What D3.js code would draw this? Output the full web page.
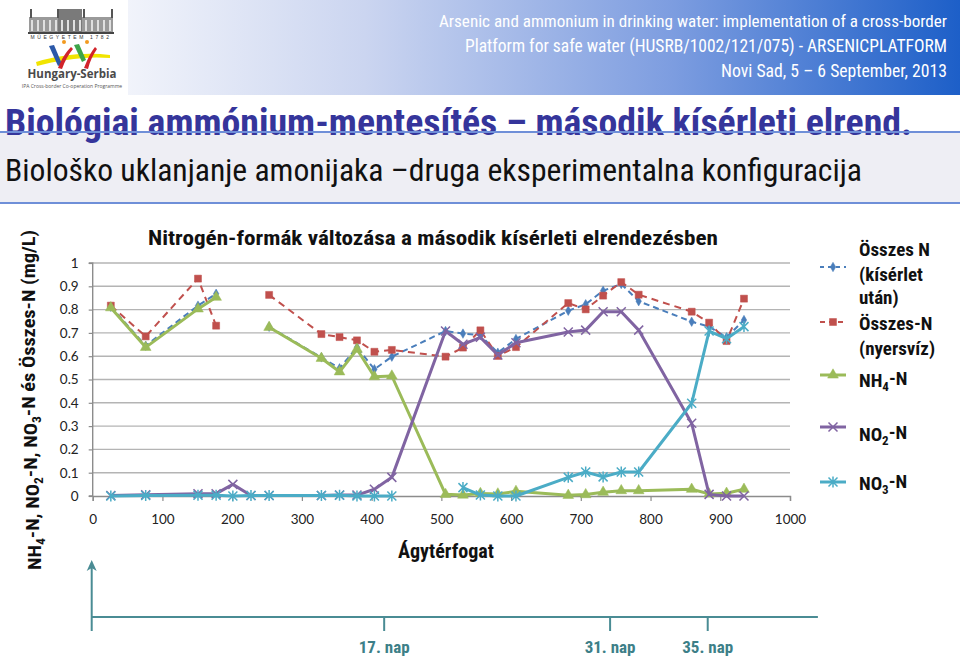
<!DOCTYPE html>
<html>
<head>
<meta charset="utf-8">
<script src="https://cdn.jsdelivr.net/npm/d3@7/dist/d3.min.js"></script>
<style>
html,body{margin:0;padding:0;background:#fff;}
svg{display:block;}
</style>
</head>
<body>
<svg id="c" width="960" height="659"></svg>
<script>
// ---------- data ----------
const bedVolume = [26, 76, 151, 177, 201, 227, 253, 328, 354, 379, 404, 429, 506, 531, 556, 581, 607, 682, 707, 732, 758, 783, 859, 884, 909, 934];
const totalNAfter = [0.812, 0.645, 0.817, 0.868, null, null, 0.726, 0.595, 0.548, 0.638, 0.544, 0.598, 0.708, 0.697, 0.690, 0.615, 0.674, 0.795, 0.823, 0.881, 0.910, 0.836, 0.748, 0.727, 0.681, 0.755];
const totalNRaw   = [0.817, 0.685, 0.933, 0.731, null, null, 0.863, 0.695, 0.682, 0.668, 0.619, 0.627, 0.598, 0.637, 0.711, 0.601, 0.639, 0.828, 0.801, 0.860, 0.918, 0.864, 0.791, 0.744, 0.665, 0.847];
const nh4N        = [0.808, 0.638, 0.803, 0.853, null, null, 0.724, 0.591, 0.533, 0.630, 0.512, 0.515, 0.007, 0.004, 0.011, 0.009, 0.020, 0.003, 0.006, 0.016, 0.023, 0.023, 0.029, 0.009, 0.012, 0.029];
const no2N        = [0.002, 0.005, 0.010, 0.010, 0.050, 0.002, 0.002, 0.002, 0.004, 0.004, 0.029, 0.080, 0.708, 0.651, 0.681, 0.605, 0.658, 0.704, 0.712, 0.791, 0.791, 0.712, 0.312, 0.007, 0.000, 0.000];
const no3N        = [0.000, 0.002, 0.003, 0.003, 0.000, 0.002, 0.002, 0.002, 0.003, 0.000, 0.000, 0.000, null, 0.036, 0.004, 0.000, 0.000, 0.080, 0.103, 0.082, 0.103, 0.103, 0.398, 0.708, 0.675, 0.727];
const xTicks = [0, 100, 200, 300, 400, 500, 600, 700, 800, 900, 1000];
const yTicks = [0, 0.1, 0.2, 0.3, 0.4, 0.5, 0.6, 0.7, 0.8, 0.9, 1];
const dayLabels = ["17. nap", "31. nap", "35. nap"];
const dayPositions = [418, 742, 882];

const NARROW = "'Liberation Sans Narrow','Arial Narrow','Roboto Condensed','Liberation Sans',Arial,sans-serif";
const CAL = "Lato,'Open Sans',Carlito,sans-serif";

const svg = d3.select("#c");

// ---------- header ----------
const defs = svg.append("defs");
const grad = defs.append("linearGradient").attr("id","hg").attr("x1","0").attr("x2","1").attr("y1","0").attr("y2","0");
grad.append("stop").attr("offset","0").attr("stop-color","#ffffff");
grad.append("stop").attr("offset","0.12").attr("stop-color","#f3f5fb");
grad.append("stop").attr("offset","0.38").attr("stop-color","#cbd5f0");
grad.append("stop").attr("offset","0.7").attr("stop-color","#7d9de0");
grad.append("stop").attr("offset","1").attr("stop-color","#1d5fc8");
svg.append("rect").attr("x",0).attr("y",0).attr("width",960).attr("height",95).attr("fill","url(#hg)");

// logo (decorative)
const logo = svg.append("g");
logo.append("rect").attr("x",0).attr("y",0).attr("width",128).attr("height",95).attr("fill","#fff");
logo.append("rect").attr("x",29).attr("y",17).attr("width",84).attr("height",16).attr("fill","#9a9a9a");
logo.append("rect").attr("x",58).attr("y",9).attr("width",24).attr("height",24).attr("fill","#7a7a7a");
for (let i=0;i<14;i++){ logo.append("rect").attr("x",31+i*6).attr("y",20).attr("width",2).attr("height",11).attr("fill","#e0e0e0"); }
[30,57,83,111].forEach(xx=>logo.append("rect").attr("x",xx).attr("y",9).attr("width",2).attr("height",9).attr("fill","#555"));
logo.append("rect").attr("x",28).attr("y",32).attr("width",86).attr("height",2).attr("fill","#444");
logo.append("text").attr("x",71).attr("y",39).attr("text-anchor","middle").attr("font-family","Liberation Sans,Arial").attr("font-size",5).attr("letter-spacing",2.6).attr("fill","#333").text("MŰEGYETEM 1782");
logo.append("path").attr("d","M36,62 C60,55 85,52 110,55 L110,58 C85,56 60,60 37,66 Z").attr("fill","#f1e400");
logo.append("path").attr("d","M49,46 L54,45 L62,64 L58,66 Z").attr("fill","#2b58a8");
logo.append("path").attr("d","M58,68 C62,58 66,52 71,47 L73,49 C68,55 65,61 62,69 Z").attr("fill","#d2232a");
logo.append("path").attr("d","M74,45 L79,44 L86,60 L82,62 Z").attr("fill","#3da54a");
logo.append("path").attr("d","M84,68 C88,58 91,52 95,47 L97,49 C93,55 90,61 88,69 Z").attr("fill","#d2232a");
logo.append("circle").attr("cx",64).attr("cy",42).attr("r",2).attr("fill","#f29a1f");
logo.append("circle").attr("cx",87).attr("cy",42).attr("r",2).attr("fill","#f29a1f");
logo.append("text").attr("x",72).attr("y",78).attr("text-anchor","middle").attr("font-family","'Open Sans',Arial").attr("font-weight","bold").attr("font-size",11.5).attr("fill","#4a4a4a").text("Hungary-Serbia");
logo.append("text").attr("x",72).attr("y",88).attr("text-anchor","middle").attr("font-family","'Open Sans',Arial").attr("font-size",5).attr("fill","#555").text("IPA Cross-border Co-operation Programme");

const hdr = [
  {t:"Arsenic and ammonium in drinking water: implementation of a cross-border", y:27, w:508, fs:17},
  {t:"Platform for safe water (HUSRB/1002/121/075) - ARSENICPLATFORM", y:52, w:482, fs:18},
  {t:"Novi Sad, 5 – 6 September, 2013", y:77, w:226, fs:18}
];
hdr.forEach(h=>svg.append("text").attr("x",947-h.w).attr("y",h.y)
  .attr("font-family",NARROW).attr("font-size",h.fs).attr("fill","#fff")
  .attr("textLength",h.w).attr("lengthAdjust","spacingAndGlyphs").text(h.t));

// title band
svg.append("rect").attr("x",0).attr("y",132).attr("width",960).attr("height",71).attr("fill","#eeeef4");
svg.append("text").attr("x",5).attr("y",135).attr("font-family",NARROW).attr("font-weight","bold").attr("font-size",37)
  .attr("fill","#35359b").attr("textLength",907).attr("lengthAdjust","spacingAndGlyphs")
  .text("Biológiai ammónium-mentesítés – második kísérleti elrend.");
svg.append("line").attr("x1",0).attr("x2",960).attr("y1",132).attr("y2",132).attr("stroke","#6f8fd8").attr("stroke-width",2);
svg.append("line").attr("x1",0).attr("x2",960).attr("y1",203).attr("y2",203).attr("stroke","#6f8fd8").attr("stroke-width",2);
svg.append("text").attr("x",5).attr("y",181).attr("font-family",NARROW).attr("font-size",31)
  .attr("fill","#111").attr("textLength",857).attr("lengthAdjust","spacingAndGlyphs")
  .text("Biološko uklanjanje amonijaka –druga eksperimentalna konfiguracija");

// ---------- chart ----------
const x = d3.scaleLinear().domain([0,1000]).range([92.7,790]);
const y = d3.scaleLinear().domain([0,1]).range([496,263]);

// gridlines
svg.append("g").selectAll("line").data(yTicks.filter(d=>d>0)).join("line")
  .attr("x1",x(0)).attr("x2",x(1000)).attr("y1",d=>y(d)).attr("y2",d=>y(d))
  .attr("stroke","#b4b4b4").attr("stroke-width",1.4);

const yAxis = svg.append("g").attr("transform",`translate(${x(0)},0)`)
  .call(d3.axisLeft(y).tickValues(yTicks).tickFormat(d=>d===0?"0":d===1?"1":d3.format(".1f")(d)).tickSize(4).tickPadding(10));
const xAxis = svg.append("g").attr("transform",`translate(0,${y(0)})`)
  .call(d3.axisBottom(x).tickValues(xTicks).tickFormat(d3.format("d")).tickSize(5).tickPadding(13));
[yAxis,xAxis].forEach(a=>{
  a.select(".domain").attr("stroke","#8c8c8c").attr("stroke-width",1.4);
  a.selectAll(".tick line").attr("stroke","#8c8c8c").attr("stroke-width",1.2);
  a.selectAll("text").attr("font-family",CAL).attr("font-size",13.5).attr("fill","#222");
});
yAxis.select(".domain").attr("d",`M-4,${y(1)}H0V${y(0)}H-4`);

// series
const colors = ["#4a7ebb","#c0504d","#9bbb59","#8064a2","#4bacc6"];
const seriesVals = [totalNAfter,totalNRaw,nh4N,no2N,no3N];
const lineStyles = [
  {w:2, dash:"6,4"},
  {w:2, dash:"7,5"},
  {w:3, dash:null},
  {w:3, dash:null},
  {w:3, dash:null}
];
function markerPath(i){
  if(i===0) return d3.symbol(d3.symbolDiamond,26)();
  if(i===1) return d3.symbol(d3.symbolSquare,49)();
  if(i===2) return d3.symbol(d3.symbolTriangle,50)();
  if(i===3) return "M-4.5,-4.5L4.5,4.5M-4.5,4.5L4.5,-4.5";
  return "M-4.5,-4.5L4.5,4.5M-4.5,4.5L4.5,-4.5M0,-5.5L0,5.5";
}
const line = d3.line().defined(d=>d[1]!=null).x(d=>x(d[0])).y(d=>y(d[1]));
seriesVals.forEach((vals,i)=>{
  const pts = bedVolume.map((b,k)=>[b,vals[k]]);
  const g = svg.append("g").attr("class","series");
  g.append("path").attr("d",line(pts)).attr("fill","none").attr("stroke",colors[i])
    .attr("stroke-width",lineStyles[i].w).attr("stroke-dasharray",lineStyles[i].dash)
    .attr("stroke-linejoin","round");
  g.selectAll("path.m").data(pts.filter(p=>p[1]!=null)).join("path").attr("class","m")
    .attr("transform",p=>`translate(${x(p[0])},${y(p[1])})`)
    .attr("d",markerPath(i))
    .attr("fill",i<3?colors[i]:"none")
    .attr("stroke",colors[i]).attr("stroke-width",i<3?0.5:1.5);
});

// chart title
svg.append("text").attr("x",433).attr("y",245).attr("text-anchor","middle").attr("font-family",NARROW)
  .attr("font-weight","bold").attr("font-size",20).attr("fill","#111")
  .attr("textLength",570).attr("lengthAdjust","spacingAndGlyphs")
  .text("Nitrogén-formák változása a második kísérleti elrendezésben");

// x title
svg.append("text").attr("x",446).attr("y",558).attr("text-anchor","middle").attr("font-family",NARROW)
  .attr("font-weight","bold").attr("font-size",20).attr("fill","#111")
  .attr("textLength",96).attr("lengthAdjust","spacingAndGlyphs").text("Ágytérfogat");

// text with subscripts
function addSubText(sel, parts, subSize){
  let shifted = false;
  parts.forEach(p=>{
    const ts = sel.append("tspan").text(p.t);
    if(p.sub){ ts.attr("dy","0.32em").attr("font-size",subSize); shifted = true; }
    else if(shifted){ ts.attr("dy","-0.32em"); shifted = false; }
  });
}
const yt = svg.append("text").attr("transform","translate(41,400) rotate(-90)").attr("text-anchor","middle")
  .attr("font-family",NARROW).attr("font-weight","bold").attr("font-size",18).attr("fill","#111")
  .attr("textLength",340).attr("lengthAdjust","spacingAndGlyphs");
addSubText(yt,[{t:"NH"},{t:"4",sub:1},{t:"-N, NO"},{t:"2",sub:1},{t:"-N, NO"},{t:"3",sub:1},{t:"-N és Összes-N (mg/L)"}],12);

// legend
const legLines = [
  {i:0, y:267, texts:[{y:256,parts:[{t:"Összes N"}]},{y:281,parts:[{t:"(kísérlet"}]},{y:304,parts:[{t:"után)"}]}]},
  {i:1, y:322, texts:[{y:330,parts:[{t:"Összes-N"}]},{y:355,parts:[{t:"(nyersvíz)"}]}]},
  {i:2, y:375, texts:[{y:387,parts:[{t:"NH"},{t:"4",sub:1},{t:"-N"}]}]},
  {i:3, y:427, texts:[{y:441,parts:[{t:"NO"},{t:"2",sub:1},{t:"-N"}]}]},
  {i:4, y:482, texts:[{y:490,parts:[{t:"NO"},{t:"3",sub:1},{t:"-N"}]}]}
];
legLines.forEach(l=>{
  const i=l.i;
  svg.append("line").attr("x1",820).attr("x2",846).attr("y1",l.y).attr("y2",l.y).attr("stroke",colors[i])
    .attr("stroke-width",lineStyles[i].w).attr("stroke-dasharray",i===0?"4,4":i===1?"5,4":null);
  svg.append("path").attr("transform",`translate(833,${l.y})`).attr("d",markerPath(i))
    .attr("fill",i<3?colors[i]:"none").attr("stroke",colors[i]).attr("stroke-width",i<3?0.5:1.5);
  l.texts.forEach(tx=>{
    const t = svg.append("text").attr("x",859).attr("y",tx.y).attr("font-family",NARROW).attr("font-weight","bold")
      .attr("font-size",19).attr("fill","#111");
    addSubText(t,tx.parts,13);
  });
});

// timeline (days)
const teal = "#4a8c94";
const tl = svg.append("g");
tl.append("line").attr("x1",x(0)-1).attr("x2",x(1040)).attr("y1",617).attr("y2",617).attr("stroke",teal).attr("stroke-width",2);
tl.append("line").attr("x1",x(0)-1).attr("x2",x(0)-1).attr("y1",631).attr("y2",564).attr("stroke",teal).attr("stroke-width",2);
tl.append("path").attr("d",`M${x(0)-6},${571} L${x(0)-1},${560} L${x(0)+4},${571} L${x(0)-1},${568} Z`).attr("fill",teal);
dayPositions.forEach((d,k)=>{
  tl.append("line").attr("x1",x(d)).attr("x2",x(d)).attr("y1",617).attr("y2",631).attr("stroke",teal).attr("stroke-width",2);
  tl.append("text").attr("x",x(d)).attr("y",653).attr("text-anchor","middle").attr("font-family",NARROW)
    .attr("font-weight","bold").attr("font-size",17).attr("fill","#3d7f88").text(dayLabels[k]);
});
</script>
</body>
</html>
